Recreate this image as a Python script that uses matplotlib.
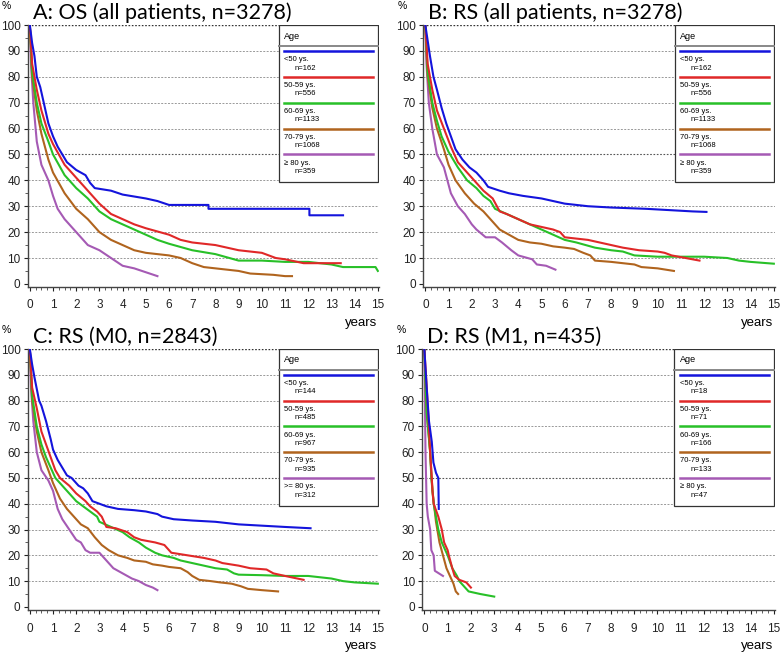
import matplotlib
matplotlib.use("Agg")
from matplotlib import pyplot as plt
from matplotlib.ticker import MultipleLocator

plt.rcParams['font.family'] = ['Liberation Sans', 'DejaVu Sans']

# ---- data (years, % surviving) ----
groups = ['<50 ys.', '50-59 ys.', '60-69 ys.', '70-79 ys.', '\u2265 80 ys.']
groups_c = ['<50 ys.', '50-59 ys.', '60-69 ys.', '70-79 ys.', '>= 80 ys.']
n_all = [162, 556, 1133, 1068, 359]
n_m0 = [144, 485, 967, 935, 312]
n_m1 = [18, 71, 166, 133, 47]
colors = ['#1414dc', '#e02828', '#28c028', '#b0641e', '#a55ab4']

# A: OS, all patients
a_lt50_t = [0, 0.1, 0.2, 0.3, 0.45, 0.6, 0.8, 1.0, 1.2, 1.4, 1.6, 2.0, 2.4, 2.6, 2.8, 3.5, 4.0, 5.0, 5.5, 6.0, 7.7, 7.7, 12.05, 12.05, 13.5]
a_lt50_s = [100, 93, 88, 80, 76, 70, 62, 57, 53, 50, 47, 44, 42, 39, 37, 36, 34.5, 33, 32, 30.5, 30.5, 29, 29, 26.5, 26.5]
a_50_t = [0, 0.1, 0.3, 0.5, 0.8, 1.0, 1.5, 2.0, 2.5, 3.0, 3.5, 4.0, 4.5, 5.0, 6.0, 6.5, 7.0, 8.0, 9.0, 10.0, 10.6, 11.0, 11.8, 13.4]
a_50_s = [100, 85, 75, 67, 58, 54, 46, 41, 36, 31, 27, 25, 23, 21.5, 19, 17, 16, 15, 13, 12, 10, 9.5, 8, 8]
a_60_t = [0, 0.1, 0.3, 0.5, 0.8, 1.0, 1.5, 2.0, 2.5, 3.0, 3.5, 4.0, 4.5, 5.0, 5.5, 6.0, 7.0, 8.0, 9.0, 10.0, 11.0, 12.0, 13.0, 13.5, 14.9, 15.0]
a_60_s = [100, 82, 70, 62, 55, 50, 42, 37, 33, 28, 25, 23, 21, 19, 17, 15.5, 13, 11.5, 9, 9, 8.5, 8.5, 7.5, 6.5, 6.5, 5]
a_70_t = [0, 0.1, 0.3, 0.5, 0.8, 1.0, 1.5, 2.0, 2.5, 3.0, 3.5, 4.0, 4.5, 5.0, 5.5, 6.0, 6.5, 7.0, 7.5, 8.0, 9.0, 9.5, 10.5, 11.0, 11.3]
a_70_s = [100, 80, 67, 58, 48, 43, 35, 29, 25, 20, 17, 15, 13, 12, 11.5, 11, 10, 8, 6.5, 6, 5, 4, 3.5, 3, 3]
a_80_t = [0, 0.05, 0.15, 0.3, 0.5, 0.8, 1.0, 1.2, 1.5, 2.0, 2.5, 3.0, 3.5, 4.0, 4.5, 5.0, 5.5]
a_80_s = [100, 85, 70, 55, 46, 40, 34, 29, 25, 20, 15, 13, 10, 7, 6, 4.5, 3]

# B: RS, all patients
b_lt50_t = [0, 0.1, 0.2, 0.35, 0.5, 0.7, 0.9, 1.1, 1.3, 1.6, 1.9, 2.2, 2.5, 2.7, 3.2, 3.6, 4.2, 5.0, 5.5, 6.0, 7.0, 8.0, 9.5, 10.5, 11.5, 12.1]
b_lt50_s = [100, 94, 88, 80, 75, 68, 62, 57, 52, 48, 45, 43, 40, 37.5, 36, 35, 34, 33, 32, 31, 30, 29.5, 29, 28.5, 28, 27.8]
b_50_t = [0, 0.1, 0.3, 0.5, 0.8, 1.1, 1.4, 1.8, 2.1, 2.5, 2.9, 3.2, 3.5, 4.0, 4.5, 5.0, 5.5, 5.8, 6.0, 7.0, 7.5, 8.0, 8.5, 9.2, 10.0, 10.3, 10.6, 11.2, 11.8]
b_50_s = [100, 85, 75, 67, 60, 53, 47, 43, 40, 36, 33, 28, 27, 25, 23, 22, 21, 20, 18, 17, 16, 15, 14, 13, 12.5, 12, 11, 10, 9]
b_60_t = [0, 0.1, 0.3, 0.5, 0.7, 1.0, 1.4, 1.8, 2.2, 2.5, 2.8, 3.0, 3.5, 4.0, 4.5, 5.0, 5.5, 6.0, 6.5, 7.3, 8.0, 8.5, 9.0, 10.0, 11.0, 12.0, 13.0, 13.5, 14.0, 15.0]
b_60_s = [100, 82, 70, 63, 57, 51, 45, 40, 37, 34, 32, 29, 27, 25, 23, 21, 19, 17, 16, 14, 13, 12.5, 11, 10.5, 10.5, 10.5, 10, 9, 8.5, 7.8]
b_70_t = [0, 0.1, 0.3, 0.5, 0.8, 1.0, 1.3, 1.7, 2.1, 2.5, 2.8, 3.2, 3.6, 4.0, 4.5, 5.0, 5.5, 6.0, 6.4, 6.8, 7.1, 7.3, 8.0, 8.5, 9.0, 9.3, 10.0, 10.7]
b_70_s = [100, 80, 68, 60, 52, 46, 40, 35, 31, 28, 25, 21, 19, 17, 16, 15.5, 14.5, 14, 13.5, 12, 11, 9, 8.5, 8, 7.5, 6.5, 6, 5]
b_80_t = [0, 0.05, 0.15, 0.3, 0.5, 0.8, 0.95, 1.1, 1.4, 1.7, 2.0, 2.2, 2.6, 3.0, 3.3, 3.7, 4.0, 4.4, 4.6, 4.8, 5.2, 5.6]
b_80_s = [100, 85, 70, 60, 50, 45, 40, 35, 30, 27, 23, 21, 18, 18, 16, 13, 11, 10, 9.5, 7.5, 7, 5.5]

# C: RS, M0
c_lt50_t = [0, 0.1, 0.2, 0.4, 0.5, 0.7, 0.9, 1.0, 1.2, 1.4, 1.6, 1.8, 2.1, 2.3, 2.5, 2.7, 3.0, 3.3, 3.8, 4.5, 5.0, 5.5, 5.7, 6.2, 7.0, 8.0, 9.0, 10.0, 11.0, 12.1]
c_lt50_s = [100, 94, 89, 80, 78, 72, 65, 61, 57, 54, 51, 50, 47, 46, 44, 41, 40, 39, 38, 37.5, 37, 36, 35, 34, 33.5, 33, 32, 31.5, 31, 30.5]
c_50_t = [0, 0.1, 0.3, 0.5, 0.7, 0.9, 1.1, 1.3, 1.7, 2.0, 2.4, 2.6, 2.9, 3.1, 3.3, 3.7, 4.2, 4.5, 4.8, 5.4, 5.8, 6.1, 6.8, 7.5, 8.0, 8.3, 9.0, 9.5, 10.2, 10.5, 11.0, 11.8]
c_50_s = [100, 85, 77, 68, 63, 58, 53, 50, 47, 44, 41, 39, 37, 35, 31, 30.5, 29, 27, 26, 25, 24, 21, 20, 19, 18, 17, 16, 15, 14.5, 13, 12, 10.5]
c_60_t = [0, 0.1, 0.3, 0.5, 0.7, 0.9, 1.1, 1.4, 1.7, 2.0, 2.3, 2.6, 2.9, 3.0, 3.5, 4.0, 4.3, 4.7, 5.0, 5.4, 5.7, 6.2, 6.5, 7.0, 7.5, 8.0, 8.5, 8.8, 9.0, 10.0, 11.0, 12.0, 12.5, 13.0, 13.5, 14.0, 15.0]
c_60_s = [100, 82, 70, 63, 58, 54, 50, 47, 44, 41, 39, 37, 35, 33, 31, 29, 27, 25, 23, 21, 20, 19, 18, 17, 16, 15, 14.5, 13, 12.5, 12.3, 12, 12, 11.5, 11, 10, 9.5, 9]
c_70_t = [0, 0.1, 0.3, 0.5, 0.8, 1.0, 1.3, 1.6, 1.9, 2.2, 2.5, 2.8, 3.1, 3.4, 3.8, 4.2, 4.5, 5.0, 5.3, 5.7, 6.0, 6.5, 6.8, 7.0, 7.3, 7.8, 8.2, 8.7, 9.1, 9.4, 10.0, 10.7]
c_70_s = [100, 80, 68, 60, 53, 48, 42, 38, 35, 32, 30.5, 27, 24, 22, 20, 19, 18, 17.5, 16.5, 16, 15.5, 15, 13.5, 12, 10.5, 10, 9.5, 9, 8, 7, 6.5, 6]
c_80_t = [0, 0.05, 0.15, 0.3, 0.5, 0.8, 1.0, 1.2, 1.4, 1.7, 2.0, 2.2, 2.4, 2.6, 3.0, 3.3, 3.6, 4.0, 4.4, 4.7, 5.0, 5.3, 5.5]
c_80_s = [100, 85, 72, 60, 53, 49, 45, 38, 34, 30, 26, 25, 22, 21, 21, 18, 15, 13, 11, 10, 8.5, 7.5, 6.5]

# D: RS, M1
d_lt50_t = [0, 0.1, 0.2, 0.32, 0.39, 0.5, 0.6, 0.62]
d_lt50_s = [100, 85, 72, 64, 56, 52, 50, 38]
d_50_t = [0, 0.1, 0.17, 0.25, 0.35, 0.4, 0.6, 0.75, 0.85, 1.0, 1.05, 1.2, 1.3, 1.5, 1.8, 2.0]
d_50_s = [100, 86, 74, 60, 45, 40, 35, 30, 25, 22, 20, 15, 12, 10.5, 9.5, 7.5]
d_60_t = [0, 0.1, 0.25, 0.3, 0.4, 0.6, 0.75, 1.0, 1.2, 1.4, 1.5, 1.7, 1.9, 2.4, 3.0]
d_60_s = [100, 75, 60, 50, 40, 30, 25, 20, 15, 12, 10, 8, 6, 5, 4]
d_70_t = [0, 0.07, 0.25, 0.35, 0.5, 0.65, 0.8, 0.95, 1.1, 1.25, 1.35, 1.45]
d_70_s = [100, 80, 60, 45, 33, 25, 20, 15, 12, 9, 6, 5]
d_80_t = [0, 0.05, 0.1, 0.15, 0.25, 0.3, 0.4, 0.45, 0.8]
d_80_s = [100, 60, 40, 35, 30, 22, 20, 14, 12]

W, H = 781, 653
fig = plt.figure(figsize=(W / 100, H / 100), dpi=100)


def add_ax(l, r, t, b):
    return fig.add_axes([l / W, 1 - b / H, (r - l) / W, (b - t) / H])


def panel(ax, title, curves, labels, ns):
    ax.set_xlim(-0.1, 15.05)
    ax.set_ylim(-1.2, 100)
    for y in range(10, 100, 10):
        if y == 50:
            ax.axhline(y, color='#555555', lw=0.8, ls=(0, (1.5, 1.5)), zorder=1)
        else:
            ax.axhline(y, color='#999999', lw=0.7, ls=(0, (2, 1.5)), zorder=1)
    ax.axhline(100, color='#333333', lw=1.0, ls=(0, (1.2, 1.2)), zorder=1)
    # oldest group first so the younger groups sit on top
    for (t, s), c in list(zip(curves, colors))[::-1]:
        ax.plot(t, s, color=c, lw=1.5, zorder=3)
    for side in ['top', 'right']:
        ax.spines[side].set_visible(False)
    for side in ['left', 'bottom']:
        ax.spines[side].set_color('#444444')
        ax.spines[side].set_linewidth(1.0)
    ax.xaxis.set_major_locator(MultipleLocator(1))
    ax.xaxis.set_minor_locator(MultipleLocator(0.25))
    ax.yaxis.set_major_locator(MultipleLocator(10))
    ax.yaxis.set_minor_locator(MultipleLocator(5))
    ax.tick_params(which='major', length=3, width=0.8, labelsize=8.5, pad=6, colors='#222222')
    ax.tick_params(which='minor', length=2, width=0.6, colors='#444444')
    ax.tick_params(axis='y', pad=2)

    # legend box drawn in axes fractions
    x0, x1, y0, y1 = 0.715, 0.997, 0.40, 1.0
    ax.add_patch(plt.Rectangle((x0, y0), x1 - x0, y1 - y0, transform=ax.transAxes,
                               facecolor='white', edgecolor='#333333', lw=0.9, zorder=5))
    ax.plot([x0, x1], [0.918, 0.918], transform=ax.transAxes, color='#888888', lw=1.4, zorder=6)
    ax.text(x0 + 0.015, 0.958, 'Age', transform=ax.transAxes, fontsize=6.5,
            va='center', ha='left', zorder=7)
    for i, (lab, n, c) in enumerate(zip(labels, ns, colors)):
        yl = 90 - 10 * i
        yf = (yl + 1.2) / 101.2
        ax.plot([x0 + 0.015, x1 - 0.015], [yf, yf], transform=ax.transAxes,
                color=c, lw=1.8, zorder=7)
        ax.text(x0 + 0.015, yf - 0.02, lab, transform=ax.transAxes, fontsize=5.5,
                va='top', ha='left', zorder=7)
        ax.text(x0 + 0.045, yf - 0.052, 'n=%d' % n, transform=ax.transAxes, fontsize=5.5,
                va='top', ha='left', zorder=7)

    ax.text(0.015, 1.023, title, transform=ax.transAxes, fontsize=15.5,
            family='Lato', ha='left', va='baseline')
    ax.text(-0.073, 1.072, '%', transform=ax.transAxes, fontsize=7.5, ha='left', va='center')
    ax.text(0.995, -0.115, 'years', transform=ax.transAxes, fontsize=9.5, ha='right', va='top')


ax_a = add_ax(27.5, 379, 25, 287)
ax_b = add_ax(423, 775, 25, 287)
ax_c = add_ax(27.5, 379, 349, 610)
ax_d = add_ax(422, 775, 349, 610)

panel(ax_a, 'A: OS (all patients, n=3278)',
      [(a_lt50_t, a_lt50_s), (a_50_t, a_50_s), (a_60_t, a_60_s), (a_70_t, a_70_s), (a_80_t, a_80_s)],
      groups, n_all)
panel(ax_b, 'B: RS (all patients, n=3278)',
      [(b_lt50_t, b_lt50_s), (b_50_t, b_50_s), (b_60_t, b_60_s), (b_70_t, b_70_s), (b_80_t, b_80_s)],
      groups, n_all)
panel(ax_c, 'C: RS (M0, n=2843)',
      [(c_lt50_t, c_lt50_s), (c_50_t, c_50_s), (c_60_t, c_60_s), (c_70_t, c_70_s), (c_80_t, c_80_s)],
      groups_c, n_m0)
panel(ax_d, 'D: RS (M1, n=435)',
      [(d_lt50_t, d_lt50_s), (d_50_t, d_50_s), (d_60_t, d_60_s), (d_70_t, d_70_s), (d_80_t, d_80_s)],
      groups, n_m1)

fig.savefig('out.png', dpi=100)
